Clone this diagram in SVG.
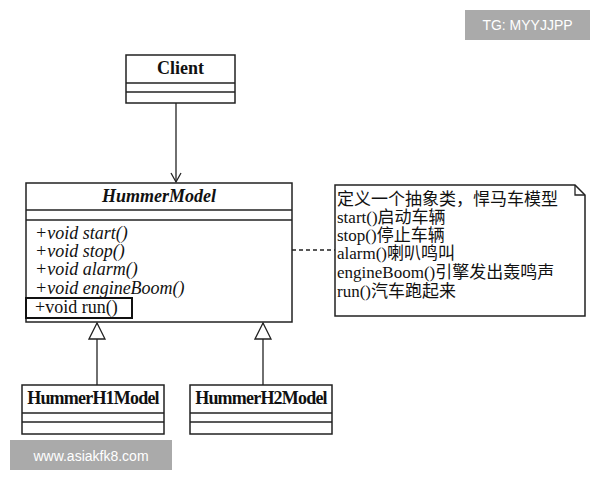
<svg xmlns="http://www.w3.org/2000/svg" width="600" height="480" viewBox="0 0 600 480">
<style>
.box{fill:#fff;stroke:#222;stroke-width:1.5}
.ln{stroke:#222;stroke-width:1.3;fill:none}
.t{font-family:"Liberation Serif",serif;font-size:18px;fill:#111}
.b{font-weight:bold}
.i{font-style:italic}
.n{font-family:"Liberation Serif","Noto Sans CJK SC",serif;font-size:17px;fill:#111}
.wm{font-family:"Liberation Sans",sans-serif;font-size:14px;fill:#fff}
</style>
<defs>
<marker id="open" markerWidth="12" markerHeight="12" refX="10" refY="6" orient="auto" markerUnits="userSpaceOnUse">
<path d="M1,1 L10,6 L1,11" fill="none" stroke="#222" stroke-width="1.3"/>
</marker>
<marker id="tri" markerWidth="18" markerHeight="22" refX="17" refY="9" orient="auto" markerUnits="userSpaceOnUse">
<path d="M17,9 L1,1 L1,17 Z" fill="#fff" stroke="#222" stroke-width="1.3"/>
</marker>
</defs>
<rect width="600" height="480" fill="#fff"/>
<g id="connectors">
<line class="ln" x1="176" y1="103" x2="176" y2="182" marker-end="url(#open)"/>
<line class="ln" x1="292" y1="250" x2="335" y2="250" stroke-dasharray="4,3"/>
<line class="ln" x1="97" y1="385" x2="97" y2="323" marker-end="url(#tri)"/>
<line class="ln" x1="263" y1="385" x2="263" y2="323" marker-end="url(#tri)"/>
</g>
<g id="client">
<rect class="box" x="126" y="55" width="109" height="48"/>
<line class="ln" x1="126" y1="83" x2="235" y2="83"/>
<line class="ln" x1="126" y1="92" x2="235" y2="92"/>
<text class="t b" x="180.5" y="74" text-anchor="middle">Client</text>
</g>
<g id="hummermodel">
<rect class="box" x="26" y="183" width="266" height="139"/>
<line class="ln" x1="26" y1="210" x2="292" y2="210"/>
<line class="ln" x1="26" y1="220" x2="292" y2="220"/>
<text class="t b i" x="159" y="202" text-anchor="middle">HummerModel</text>
<text class="t i" x="35" y="239">+void start()</text>
<text class="t i" x="35" y="257">+void stop()</text>
<text class="t i" x="35" y="275">+void alarm()</text>
<text class="t i" x="35" y="294">+void engineBoom()</text>
<rect x="26" y="298" width="106" height="20" fill="none" stroke="#111" stroke-width="2"/>
<text class="t" x="35" y="313">+void run()</text>
</g>
<g id="note">
<path class="box" d="M335,185 L575,185 L585,195 L585,316 L335,316 Z"/>
<path class="ln" d="M575,185 L575,195 L585,195"/>
<text class="n" x="337" y="205">定义一个抽象类，悍马车模型</text>
<text class="n" x="337" y="223">start()启动车辆</text>
<text class="n" x="337" y="241">stop()停止车辆</text>
<text class="n" x="337" y="259">alarm()喇叭鸣叫</text>
<text class="n" x="337" y="278">engineBoom()引擎发出轰鸣声</text>
<text class="n" x="337" y="297">run()汽车跑起来</text>
</g>
<g id="h1">
<rect class="box" x="22" y="385" width="142" height="49"/>
<line class="ln" x1="22" y1="413" x2="164" y2="413"/>
<line class="ln" x1="22" y1="422" x2="164" y2="422"/>
<text class="t b" x="93" y="404" text-anchor="middle" letter-spacing="-0.8">HummerH1Model</text>
</g>
<g id="h2">
<rect class="box" x="190" y="385" width="142" height="49"/>
<line class="ln" x1="190" y1="413" x2="332" y2="413"/>
<line class="ln" x1="190" y1="422" x2="332" y2="422"/>
<text class="t b" x="261" y="404" text-anchor="middle" letter-spacing="-0.8">HummerH2Model</text>
</g>
<g id="watermarks">
<rect x="465" y="10" width="125" height="30" fill="#aaa"/>
<text class="wm" x="527.5" y="30" text-anchor="middle">TG: MYYJJPP</text>
<rect x="10" y="440" width="162" height="30" fill="#aaa"/>
<text class="wm" x="91" y="461" text-anchor="middle">www.asiakfk8.com</text>
</g>
</svg>
